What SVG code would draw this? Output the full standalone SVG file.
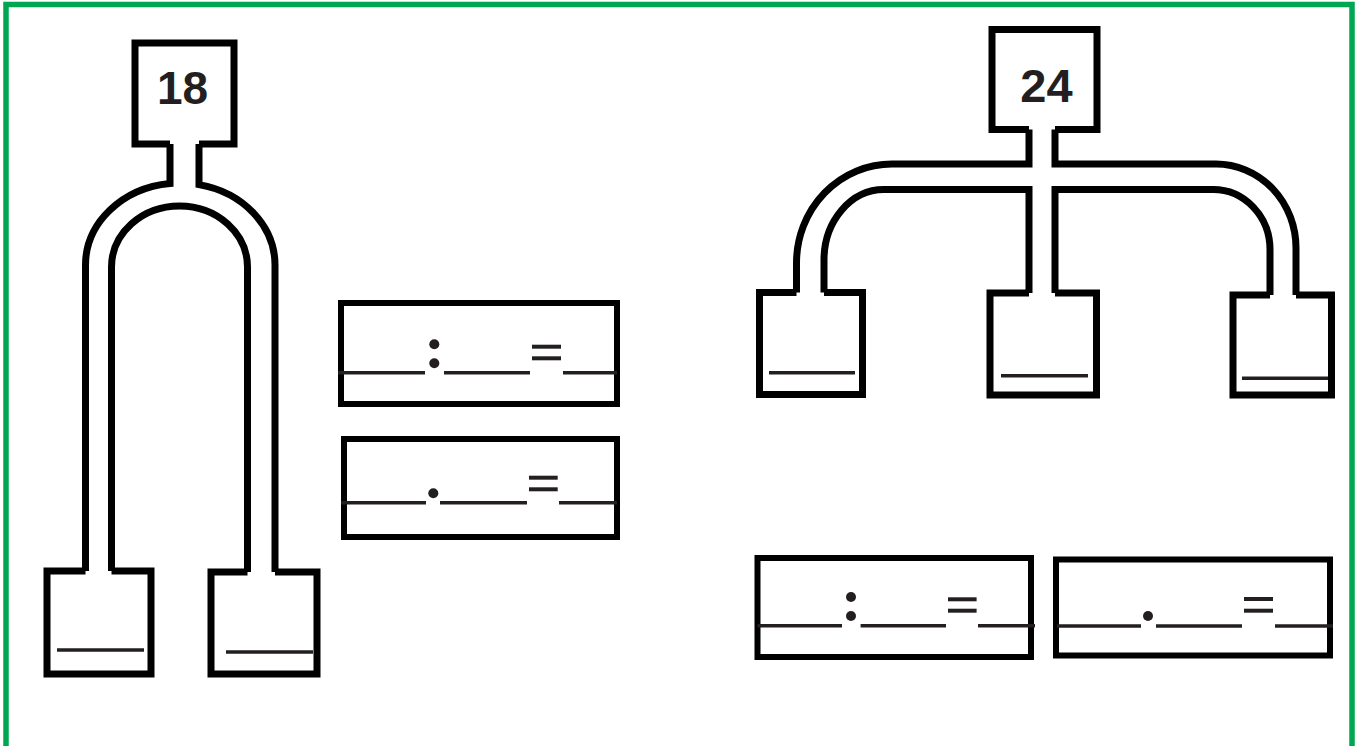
<svg xmlns="http://www.w3.org/2000/svg" width="1356" height="746" viewBox="0 0 1356 746">
<style>
.box{fill:none;stroke:#000;stroke-width:7;stroke-linejoin:miter}
.pipe{fill:none;stroke:#000;stroke-width:7;stroke-linejoin:miter}
.eqbox{fill:none;stroke:#000;stroke-width:6}
.blank{stroke:#231f20;stroke-width:3.5;fill:none}
.eqbar{stroke:#231f20;stroke-width:4;fill:none}
.dot{fill:#231f20}
.num{font-family:"Liberation Sans",Arial,sans-serif;font-weight:bold;fill:#231f20;text-anchor:middle}
</style>
<rect x="0" y="0" width="1356" height="746" fill="#fff"/>
<rect id="frame" x="6" y="4.5" width="1346" height="760" fill="none" stroke="#00a651" stroke-width="5.5"/>

<g id="connectors">
  <path class="pipe" d="M85.5 571 V265 A94.75 82 0 0 1 170 183.5 V144"/>
  <path class="pipe" d="M199 144 V184.6 A94.75 82 0 0 1 275 265 V572"/>
  <path class="pipe" d="M111.5 571 V267 A68 61 0 0 1 247.5 267 V572"/>
  <path class="pipe" d="M1029 129.5 V164 H892 A95.5 99 0 0 0 796.5 263 V292.5"/>
  <path class="pipe" d="M1055 129.5 V164 H1216 A80 84 0 0 1 1296 248 V295"/>
  <path class="pipe" d="M824 292.5 V260 A60 70.5 0 0 1 884 189.5 H1029 V293"/>
  <path class="pipe" d="M1055 293 V189.5 H1213 A57 60 0 0 1 1270 249.5 V295"/>
</g>

<g id="node-18">
  <path class="box" d="M170 144 H135 V43 H234 V144 H199"/>
  <text class="num" x="182.5" y="103.5" font-size="46">18</text>
</g>
<g id="node-18-left">
  <path class="box" d="M85.5 571 H47 V674 H151 V571 H111.5"/>
  <line class="blank" x1="57" y1="650" x2="144" y2="650"/>
</g>
<g id="node-18-right">
  <path class="box" d="M247.5 572 H211 V674 H317 V572 H275"/>
  <line class="blank" x1="226" y1="652" x2="313" y2="652"/>
</g>

<g id="eq-18-div">
  <rect class="eqbox" x="341" y="303" width="276" height="101"/>
  <line class="blank" x1="338" y1="372.7" x2="425" y2="372.7"/>
  <line class="blank" x1="444" y1="372.7" x2="530" y2="372.7"/>
  <line class="blank" x1="563" y1="372.7" x2="617" y2="372.7"/>
  <circle class="dot" cx="434.3" cy="344.3" r="5"/>
  <circle class="dot" cx="434.3" cy="363.3" r="5"/>
  <line class="eqbar" x1="532" y1="346.7" x2="561" y2="346.7"/>
  <line class="eqbar" x1="532" y1="358.3" x2="561" y2="358.3"/>
</g>
<g id="eq-18-mul">
  <rect class="eqbox" x="344" y="439" width="273" height="98"/>
  <line class="blank" x1="341" y1="502.7" x2="426" y2="502.7"/>
  <line class="blank" x1="440" y1="502.7" x2="527" y2="502.7"/>
  <line class="blank" x1="559" y1="502.7" x2="617" y2="502.7"/>
  <circle class="dot" cx="433.3" cy="493.3" r="5"/>
  <line class="eqbar" x1="529" y1="477.7" x2="557.7" y2="477.7"/>
  <line class="eqbar" x1="529" y1="489.3" x2="557.7" y2="489.3"/>
</g>

<g id="node-24">
  <path class="box" d="M1029 129.5 H992 V29.5 H1097 V129.5 H1055"/>
  <text class="num" x="1046.5" y="101.5" font-size="47">24</text>
</g>
<g id="node-24-left">
  <path class="box" d="M796.5 292.5 H759.5 V394.5 H862.5 V292.5 H824"/>
  <line class="blank" x1="769" y1="372.7" x2="855" y2="372.7"/>
</g>
<g id="node-24-mid">
  <path class="box" d="M1029 293 H990 V395 H1096.5 V293 H1055"/>
  <line class="blank" x1="1001" y1="375.7" x2="1088" y2="375.7"/>
</g>
<g id="node-24-right">
  <path class="box" d="M1270 295 H1233 V395 H1331.5 V295 H1296"/>
  <line class="blank" x1="1242" y1="378.3" x2="1328" y2="378.3"/>
</g>

<g id="eq-24-div">
  <rect class="eqbox" x="757.5" y="558" width="273.5" height="99"/>
  <line class="blank" x1="757.5" y1="625.7" x2="842" y2="625.7"/>
  <line class="blank" x1="860.6" y1="625.7" x2="946" y2="625.7"/>
  <line class="blank" x1="978" y1="625.7" x2="1035" y2="625.7"/>
  <circle class="dot" cx="851" cy="597" r="5"/>
  <circle class="dot" cx="851" cy="616" r="5"/>
  <line class="eqbar" x1="948" y1="599.3" x2="976.6" y2="599.3"/>
  <line class="eqbar" x1="948" y1="610.7" x2="976.6" y2="610.7"/>
</g>
<g id="eq-24-mul">
  <rect class="eqbox" x="1056" y="559.5" width="274" height="96"/>
  <line class="blank" x1="1057" y1="626" x2="1141" y2="626"/>
  <line class="blank" x1="1156" y1="626" x2="1242" y2="626"/>
  <line class="blank" x1="1275" y1="626" x2="1333" y2="626"/>
  <circle class="dot" cx="1148" cy="616" r="5"/>
  <line class="eqbar" x1="1244" y1="599" x2="1273" y2="599"/>
  <line class="eqbar" x1="1244" y1="610.7" x2="1273" y2="610.7"/>
</g>
</svg>
